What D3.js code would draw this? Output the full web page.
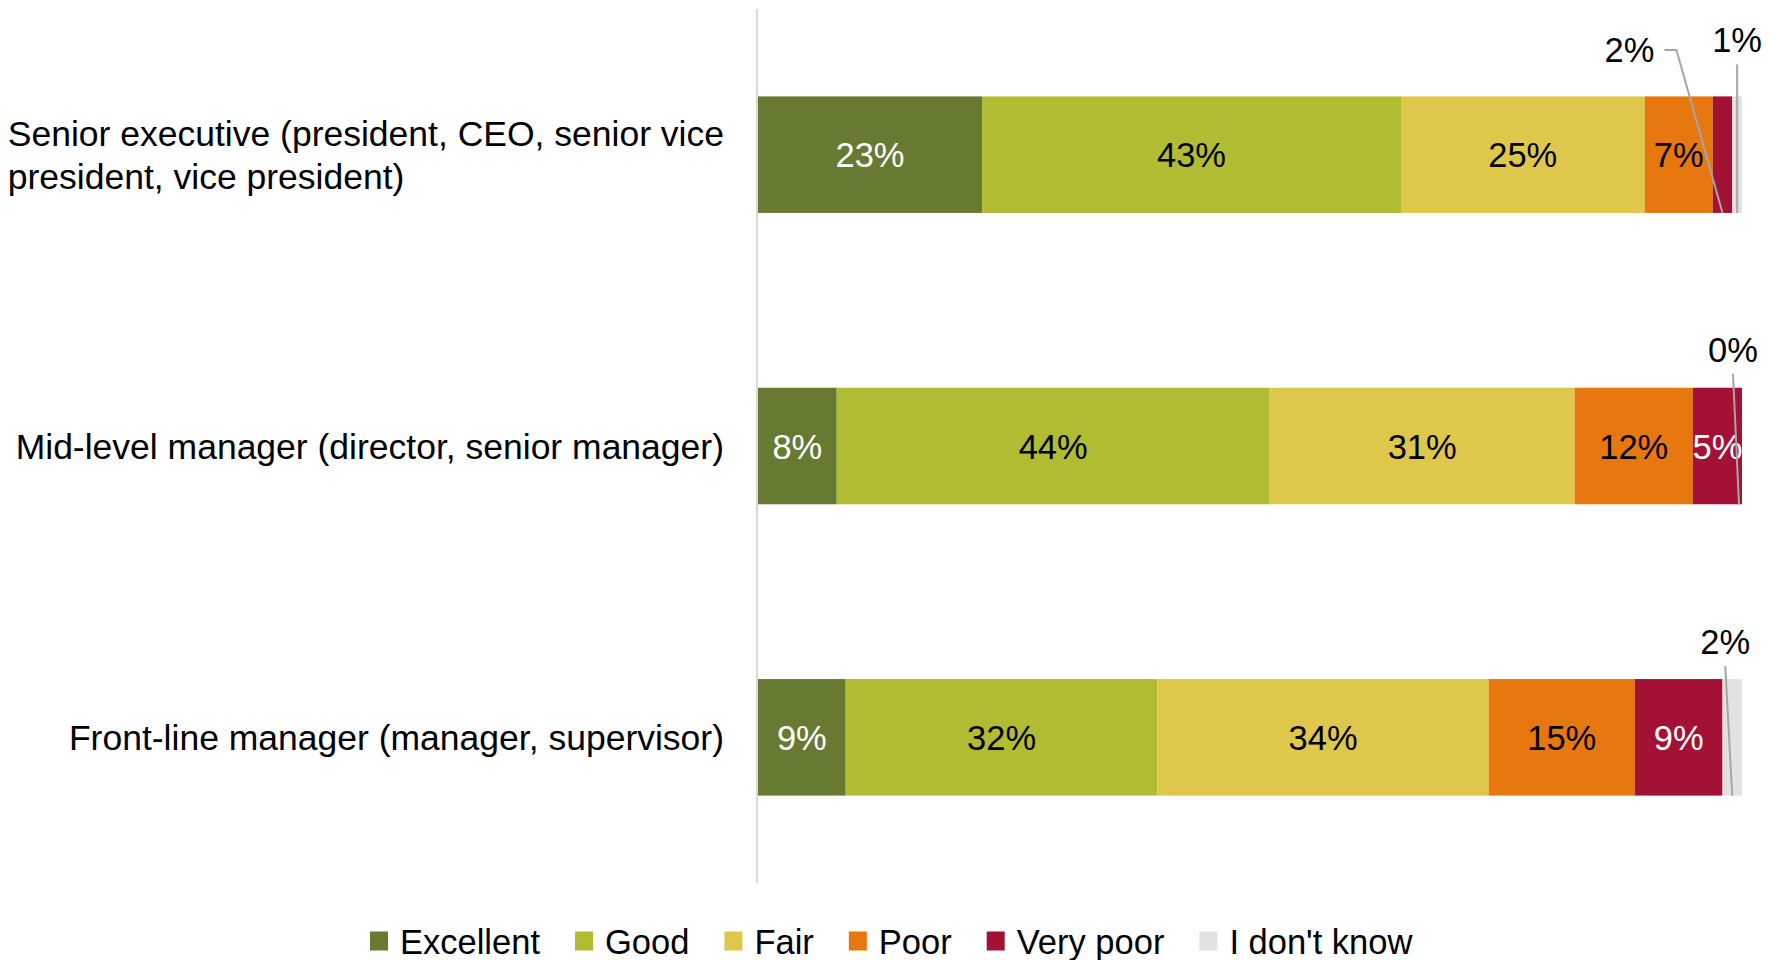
<!DOCTYPE html>
<html>
<head>
<meta charset="utf-8">
<script src="https://cdn.jsdelivr.net/npm/d3@7"></script>
<style>
  html, body { margin: 0; padding: 0; background: #fff; }
  svg { display: block; }
  text { font-family: "Liberation Sans", Arial, sans-serif; }
</style>
</head>
<body>
<svg id="chart" width="1769" height="960"></svg>
<script>
// ---- data -------------------------------------------------------------
const categories = ["Senior executive", "Mid-level manager", "Front-line manager"];
const categoryLines = [
  ["Senior executive (president, CEO, senior vice", "president, vice president)"],
  ["Mid-level manager (director, senior manager)"],
  ["Front-line manager (manager, supervisor)"]
];
const seriesNames = ["Excellent", "Good", "Fair", "Poor", "Very poor", "I don't know"];
const excellent = [23, 8, 9];
const good      = [43, 44, 32];
const fair      = [25, 31, 34];
const poor      = [7, 12, 15];
const veryPoor  = [2, 5, 9];
const dontKnow  = [1, 0, 2];

const seriesValues = [excellent, good, fair, poor, veryPoor, dontKnow];
const colors = ["#677a32", "#b1bc33", "#dfc74b", "#e7770f", "#a31135", "#e2e2e2"];
const whiteText = new Set(["Excellent", "Very poor"]);

// table for d3.stack
const table = categories.map((c, i) => {
  const row = { category: c };
  seriesNames.forEach((s, j) => { row[s] = seriesValues[j][i]; });
  return row;
});

// ---- layout -----------------------------------------------------------
const svg = d3.select("#chart");
const fontSize = 34.5;
const catFontSize = 35.5;

const x = d3.scaleLinear().domain([0, 1]).range([758, 1742]);
const y = d3.scaleBand().domain(categories).range([9, 883])
  .paddingInner(0.6).paddingOuter(0.3);

const stack = d3.stack().keys(seriesNames).offset(d3.stackOffsetExpand);
const layers = stack(table);

// small segments are labelled above the bar with a leader line
const callouts = {
  "Senior executive|Very poor":   { dx: -93, dy: -34, elbow: true },
  "Senior executive|I don't know": { dx: 0,   dy: -44 },
  "Mid-level manager|I don't know": { dx: -9, dy: -26, endDx: -3 },
  "Front-line manager|I don't know": { dx: -7, dy: -25 }
};

// vertical category axis line
svg.append("line")
  .attr("x1", 757).attr("x2", 757)
  .attr("y1", 9).attr("y2", 883)
  .attr("stroke", "#d9d9d9").attr("stroke-width", 2);

// bars
const g = svg.append("g");
layers.forEach((layer, j) => {
  g.selectAll(null).data(layer).join("rect")
    .attr("x", d => x(d[0]))
    .attr("y", d => y(d.data.category))
    .attr("width", d => Math.max(0, x(d[1]) - x(d[0])))
    .attr("height", y.bandwidth())
    .attr("fill", colors[j]);
});

// value labels
layers.forEach((layer, j) => {
  const key = layer.key;
  layer.forEach(d => {
    const cat = d.data.category;
    const v = d.data[key];
    const cx = (x(d[0]) + x(d[1])) / 2;
    const top = y(cat), bottom = top + y.bandwidth();
    const mid = top + y.bandwidth() / 2;
    const co = callouts[cat + "|" + key];
    if (co) {
      const tx = cx + co.dx, ty = top + co.dy;
      const t = svg.append("text")
        .attr("x", tx).attr("y", ty)
        .attr("text-anchor", "middle")
        .attr("font-size", fontSize)
        .attr("fill", "#000")
        .text(v + "%");
      const endX = cx + (co.endDx || 0);
      let path;
      if (co.elbow) {
        const w = t.node().getComputedTextLength();
        const sx = tx + w / 2 + 10, sy = ty - 12.5;
        path = [[sx, sy], [sx + 12, sy], [endX, bottom]];
      } else {
        path = [[tx, ty + 12], [endX, bottom]];
      }
      svg.append("path")
        .attr("d", d3.line()(path))
        .attr("fill", "none")
        .attr("stroke", "#a6a6a6")
        .attr("stroke-width", 2);
    } else if (v > 0) {
      svg.append("text")
        .attr("x", cx).attr("y", mid + 12.5)
        .attr("text-anchor", "middle")
        .attr("font-size", fontSize)
        .attr("fill", whiteText.has(key) ? "#fff" : "#000")
        .text(v + "%");
    }
  });
});

// category labels: block right-aligned to the axis, lines left-aligned
categories.forEach((c, i) => {
  const lines = categoryLines[i];
  const lineH = 43;
  const mid = y(c) + y.bandwidth() / 2;
  const t = svg.append("text")
    .attr("font-size", catFontSize)
    .attr("fill", "#000");
  const firstBase = mid + 12.5 - (lines.length - 1) * lineH / 2;
  lines.forEach((ln, k) => {
    t.append("tspan").attr("y", firstBase + k * lineH).text(ln);
  });
  let maxW = 0;
  t.selectAll("tspan").each(function () {
    maxW = Math.max(maxW, this.getComputedTextLength());
  });
  t.selectAll("tspan").attr("x", 724 - maxW);
});

// legend
const legend = svg.append("g");
let lx = 370;
const ly = 941;
seriesNames.forEach((s, j) => {
  legend.append("rect")
    .attr("x", lx).attr("y", ly - 9.5)
    .attr("width", 18).attr("height", 19)
    .attr("fill", colors[j]);
  const t = legend.append("text")
    .attr("x", lx + 30).attr("y", ly + 13)
    .attr("font-size", fontSize)
    .attr("fill", "#000")
    .text(s);
  lx += 30 + t.node().getComputedTextLength() + 35;
});
</script>
</body>
</html>
